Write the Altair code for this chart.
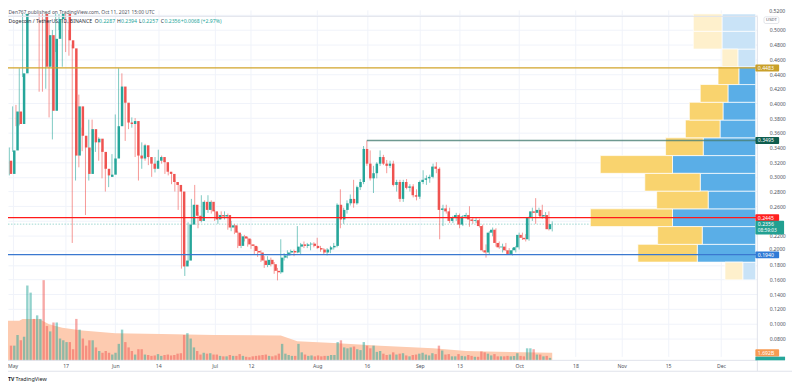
import altair as alt
import pandas as pd

# ---------------- data ----------------
first_day = "2021-04-29"
last_day = "2021-10-11"

opens = [
    0.322, 0.304,
    0.336, 0.389, 0.372, 0.441, 0.540, 0.590, 0.570, 0.660, 0.700, 0.570,
    0.450, 0.493, 0.390, 0.488, 0.515, 0.545, 0.548, 0.486, 0.475, 0.329,
    0.396, 0.356, 0.340, 0.304, 0.365, 0.347, 0.352, 0.334, 0.311, 0.300, 0.303,
    0.325, 0.369, 0.423, 0.401, 0.374, 0.372, 0.376, 0.329, 0.325, 0.343,
    0.327, 0.318, 0.311, 0.322, 0.327, 0.320, 0.307, 0.304, 0.293, 0.289,
    0.280, 0.178, 0.186, 0.235, 0.262, 0.247, 0.240, 0.266, 0.255, 0.266,
    0.253, 0.242, 0.248, 0.246, 0.248, 0.231, 0.234, 0.224, 0.206, 0.219,
    0.216, 0.208, 0.206, 0.199, 0.197, 0.186, 0.180, 0.187, 0.181, 0.172,
    0.170, 0.190, 0.193, 0.197, 0.199, 0.197, 0.205, 0.208, 0.206, 0.208, 0.209,
    0.206, 0.203, 0.201, 0.197, 0.201, 0.204, 0.206, 0.262, 0.242, 0.255,
    0.264, 0.270, 0.264, 0.286, 0.293, 0.338, 0.318, 0.298, 0.305, 0.318,
    0.327, 0.318, 0.315, 0.318, 0.289, 0.293, 0.270, 0.293, 0.285, 0.287, 0.275,
    0.273, 0.293, 0.296, 0.298, 0.300, 0.314, 0.311, 0.255, 0.257, 0.253,
    0.240, 0.245, 0.248, 0.235, 0.246, 0.248, 0.242, 0.240, 0.241, 0.233,
    0.200, 0.197, 0.224, 0.228, 0.210, 0.204, 0.205, 0.200, 0.195, 0.200,
    0.204, 0.221, 0.217, 0.215, 0.244, 0.253, 0.251, 0.255, 0.246, 0.248, 0.2287,
]
highs = [
    0.326, 0.340,
    0.396, 0.398, 0.448, 0.560, 0.620, 0.630, 0.690, 0.740, 0.710, 0.590,
    0.524, 0.510, 0.500, 0.530, 0.560, 0.565, 0.555, 0.500, 0.480, 0.403,
    0.412, 0.367, 0.344, 0.378, 0.378, 0.360, 0.354, 0.338, 0.316, 0.309, 0.331,
    0.385, 0.448, 0.441, 0.410, 0.394, 0.381, 0.380, 0.343, 0.347, 0.345,
    0.329, 0.323, 0.327, 0.337, 0.329, 0.322, 0.311, 0.306, 0.296, 0.292,
    0.283, 0.195, 0.238, 0.270, 0.289, 0.252, 0.275, 0.268, 0.275, 0.268,
    0.255, 0.250, 0.253, 0.253, 0.250, 0.240, 0.236, 0.226, 0.222, 0.221,
    0.218, 0.215, 0.208, 0.205, 0.200, 0.192, 0.192, 0.190, 0.184, 0.176,
    0.215, 0.196, 0.200, 0.201, 0.201, 0.233, 0.210, 0.212, 0.210, 0.211, 0.211,
    0.217, 0.206, 0.203, 0.203, 0.206, 0.210, 0.264, 0.283, 0.258, 0.268,
    0.276, 0.296, 0.288, 0.297, 0.342, 0.3495, 0.336, 0.315, 0.320, 0.336,
    0.330, 0.323, 0.322, 0.322, 0.296, 0.296, 0.296, 0.297, 0.290, 0.290, 0.283,
    0.295, 0.309, 0.302, 0.303, 0.318, 0.320, 0.313, 0.262, 0.262, 0.258,
    0.247, 0.251, 0.250, 0.248, 0.251, 0.260, 0.245, 0.244, 0.243, 0.235,
    0.208, 0.226, 0.231, 0.230, 0.212, 0.209, 0.210, 0.203, 0.203, 0.206,
    0.224, 0.224, 0.222, 0.246, 0.258, 0.271, 0.258, 0.262, 0.252, 0.253, 0.2394,
]
lows = [
    0.293, 0.302,
    0.334, 0.369, 0.370, 0.436, 0.520, 0.540, 0.560, 0.630, 0.416, 0.416,
    0.420, 0.381, 0.351, 0.470, 0.500, 0.450, 0.470, 0.465, 0.210, 0.295,
    0.313, 0.335, 0.248, 0.295, 0.336, 0.334, 0.322, 0.298, 0.280, 0.286, 0.300,
    0.318, 0.349, 0.385, 0.349, 0.365, 0.367, 0.327, 0.295, 0.311, 0.322,
    0.316, 0.300, 0.306, 0.320, 0.318, 0.304, 0.302, 0.290, 0.280, 0.255,
    0.175, 0.165, 0.183, 0.230, 0.237, 0.230, 0.238, 0.250, 0.251, 0.250,
    0.240, 0.236, 0.243, 0.242, 0.228, 0.226, 0.222, 0.203, 0.203, 0.212,
    0.205, 0.202, 0.195, 0.191, 0.184, 0.176, 0.177, 0.178, 0.168, 0.159,
    0.168, 0.186, 0.189, 0.193, 0.192, 0.196, 0.195, 0.203, 0.203, 0.200, 0.204,
    0.202, 0.198, 0.194, 0.193, 0.196, 0.201, 0.204, 0.230, 0.236, 0.250,
    0.261, 0.258, 0.262, 0.282, 0.290, 0.315, 0.295, 0.278, 0.298, 0.315,
    0.316, 0.305, 0.312, 0.287, 0.280, 0.266, 0.266, 0.283, 0.280, 0.272, 0.268,
    0.270, 0.290, 0.289, 0.292, 0.298, 0.305, 0.215, 0.233, 0.250, 0.237,
    0.237, 0.240, 0.230, 0.233, 0.243, 0.232, 0.236, 0.237, 0.231, 0.198,
    0.190, 0.195, 0.219, 0.205, 0.202, 0.197, 0.199, 0.194, 0.193, 0.197,
    0.201, 0.214, 0.212, 0.213, 0.240, 0.236, 0.247, 0.243, 0.243, 0.227, 0.2257,
]
closes = [
    0.304, 0.336,
    0.389, 0.372, 0.441, 0.540, 0.590, 0.570, 0.660, 0.700, 0.570, 0.450,
    0.493, 0.390, 0.488, 0.515, 0.545, 0.548, 0.486, 0.475, 0.329, 0.396,
    0.356, 0.340, 0.304, 0.365, 0.347, 0.352, 0.334, 0.311, 0.302, 0.303, 0.325,
    0.369, 0.423, 0.401, 0.374, 0.372, 0.376, 0.329, 0.325, 0.343, 0.327,
    0.318, 0.311, 0.322, 0.327, 0.320, 0.307, 0.304, 0.293, 0.289, 0.280,
    0.178, 0.186, 0.235, 0.262, 0.247, 0.240, 0.266, 0.255, 0.266, 0.253,
    0.242, 0.248, 0.246, 0.248, 0.231, 0.234, 0.224, 0.206, 0.219, 0.216,
    0.208, 0.206, 0.199, 0.197, 0.186, 0.180, 0.187, 0.181, 0.172, 0.170,
    0.190, 0.193, 0.197, 0.199, 0.197, 0.205, 0.208, 0.206, 0.208, 0.209, 0.206,
    0.203, 0.201, 0.197, 0.201, 0.204, 0.206, 0.262, 0.242, 0.255, 0.264,
    0.270, 0.264, 0.286, 0.293, 0.338, 0.318, 0.298, 0.305, 0.318, 0.327,
    0.318, 0.315, 0.318, 0.289, 0.293, 0.270, 0.293, 0.285, 0.287, 0.275, 0.273,
    0.293, 0.296, 0.298, 0.300, 0.314, 0.311, 0.255, 0.257, 0.253, 0.240,
    0.245, 0.248, 0.235, 0.246, 0.248, 0.242, 0.240, 0.241, 0.233, 0.200,
    0.197, 0.224, 0.228, 0.210, 0.204, 0.205, 0.200, 0.195, 0.200, 0.204,
    0.221, 0.217, 0.215, 0.244, 0.253, 0.251, 0.255, 0.246, 0.248, 0.2287, 0.2356,
]
volumes_b = [
    3.3, 3.3,
    5.7, 4.5, 5.3, 16.8, 15.2, 9.3, 10.1, 9.3, 18.0, 7.7,
    6.5, 8.5, 8.5, 4.9, 4.5, 4.1, 4.1, 2.5, 9.3, 6.9,
    4.9, 3.3, 4.5, 4.5, 2.9, 2.1, 1.7, 2.1, 1.7, 1.3, 1.7,
    3.7, 6.9, 4.1, 2.9, 2.1, 1.3, 2.5, 2.5, 1.3, 1.2,
    1.0, 1.1, 1.4, 1.0, 1.2, 1.3, 1.1, 1.2, 1.5, 1.6,
    5.7, 6.1, 4.9, 2.9, 2.1, 1.3, 1.7, 1.5, 1.6, 1.3,
    1.3, 1.0, 0.9, 0.9, 1.2, 1.0, 1.0, 1.4, 1.0, 0.8,
    0.7, 0.9, 1.0, 1.1, 1.2, 1.3, 1.0, 0.9, 1.1, 1.5,
    3.7, 1.5, 1.2, 1.0, 1.0, 3.7, 1.8, 1.3, 1.0, 1.1, 0.9,
    1.1, 0.9, 1.0, 1.0, 1.2, 1.2, 4.1, 4.5, 2.9, 2.7,
    2.9, 3.1, 2.5, 2.3, 4.1, 3.3, 2.7, 3.3, 1.9, 2.1,
    1.5, 1.2, 1.3, 1.8, 1.3, 1.5, 1.6, 1.1, 0.9, 1.2, 1.3,
    1.5, 1.7, 1.3, 1.1, 1.6, 1.4, 3.3, 2.2, 1.3, 1.4,
    0.9, 0.9, 1.4, 1.0, 0.9, 1.2, 1.0, 0.8, 0.8, 2.0,
    1.8, 1.5, 1.1, 1.4, 0.9, 0.9, 0.9, 1.0, 0.9, 1.0,
    1.6, 1.0, 0.9, 2.7, 2.7, 2.5, 1.3, 1.3, 0.9, 1.0, 0.55,
]

# volume moving average (area)
ma_dates = ["2021-04-29", "2021-05-03", "2021-05-04", "2021-05-09", "2021-05-12",
            "2021-05-16", "2021-05-22", "2021-06-01", "2021-06-15", "2021-07-01",
            "2021-07-21", "2021-07-26", "2021-08-06", "2021-08-20", "2021-09-05",
            "2021-09-15", "2021-10-11"]
ma_values = [8.9, 8.9, 9.3, 9.3, 8.1, 7.3, 6.7, 6.1, 5.9, 5.7, 5.6, 4.3, 3.9, 3.3,
             2.7, 2.1, 1.692]

# visible range volume profile (rows from the bottom)
profile_row = 0.02418
profile_bin_low = [0.1597, 0.1839, 0.2081, 0.2323, 0.2564, 0.2806, 0.3048, 0.3290,
                   0.3532, 0.3774, 0.4016, 0.4257, 0.4499, 0.4741, 0.4983]
profile_up = [13, 59, 54, 84, 48, 56, 84, 53, 36, 33, 28, 17, 18, 34, 34]
profile_down = [18, 60, 45, 83, 52, 56, 73, 38, 35, 34, 28, 21, 16, 29, 29]
profile_value_area = [False, True, True, True, True, True, True, True, True, True,
                      True, True, False, False, False]

# horizontal levels
gold_level = 0.4483
green_level = 0.3495
green_level_start = "2021-08-16"
red_level = 0.2445
blue_level = 0.1940
last_price = 0.2356
countdown = "08:59:03"
last_volume_ma = 1.692

tick_dates = ["2021-05-01", "2021-05-17", "2021-06-01", "2021-06-14", "2021-07-01",
              "2021-07-12", "2021-08-01", "2021-08-16", "2021-09-01", "2021-09-13",
              "2021-10-01", "2021-10-18", "2021-11-01", "2021-11-15", "2021-12-01"]
tick_labels = ["May", "17", "Jun", "14", "Jul", "12", "Aug", "16", "Sep", "13",
               "Oct", "18", "Nov", "15", "Dec"]
price_ticks = [0.08, 0.10, 0.12, 0.14, 0.16, 0.18, 0.20, 0.22, 0.24, 0.26, 0.28,
               0.30, 0.32, 0.34, 0.36, 0.38, 0.40, 0.42, 0.44, 0.46, 0.48, 0.50, 0.52]
# labels drawn by hand (nudged clear of the level boxes) or hidden under them
hidden_price_labels = ["0.2400", "0.5200", "0.2000"]
top_cut_label = "0.5200"
nudged_label = "0.2000"

header_line1 = "Den767 published on TradingView.com, Oct 11, 2021 15:00 UTC"
header_symbol = "Dogecoin / TetherUS, 1D, BINANCE"
ohlc_letters = ["O", "H", "L", "C"]
ohlc_values = ["0.2287", "0.2394", "0.2257", "0.2356"]
change_text = "+0.0068 (+2.97%)"

# ---------------- layout / style ----------------
W, H = 757, 354
FONT = "Noto Sans"
FS = 5.2
UP, DOWN = "#26a69a", "#ef5350"
PX_DAY = 3.344
X_MAY1 = 4.7
PX_PRICE = 741.7
Y_HALF = 20.3
TOP = 4
PX_VOL = 4.5

day0 = pd.Timestamp("2021-05-01")
X = alt.Scale(domain=[-X_MAY1 / PX_DAY, (W - X_MAY1) / PX_DAY], nice=False, zero=False)
P = alt.Scale(domain=[0.5 - (H - Y_HALF) / PX_PRICE, 0.5 + (Y_HALF - TOP) / PX_PRICE],
              range=[H, TOP], nice=False, zero=False, clamp=True)
V = alt.Scale(domain=[0, H / PX_VOL], range=[H, 0], nice=False, zero=False, clamp=True)
PROF = alt.Scale(domain=[0, 200], range=[755.3, 555.3], nice=False, zero=False)

dates = pd.date_range(first_day, last_day, freq="D")
df = pd.DataFrame({"O": opens, "H": highs, "L": lows, "C": closes, "V": volumes_b})
df["d"] = (dates - day0).days

ma_df = pd.DataFrame({"d": (pd.to_datetime(ma_dates) - day0).days, "v": ma_values})
tick_days = [int((pd.Timestamp(t) - day0).days) for t in tick_dates]
label_expr = " : ".join(f"datum.value == {d} ? '{l}'" for d, l in zip(tick_days, tick_labels)) + " : ''"
hidden_list = "[" + ",".join(f"'{h}'" for h in hidden_price_labels) + "]"
y_label_expr = f"indexof({hidden_list}, datum.label) >= 0 ? '' : datum.label"

prof = pd.DataFrame({"lo": profile_bin_low, "up": profile_up, "down": profile_down,
                     "va": profile_value_area})
prof["hi"] = prof["lo"] + profile_row
prof["tot"] = prof["up"] + prof["down"]
prof["zero"] = 0

x_axis = alt.Axis(values=tick_days, labelExpr=label_expr, grid=True, gridColor="#f0f3fa",
                  ticks=False, domain=False, labelFontSize=FS, labelColor="#50535e",
                  labelFont=FONT, labelPadding=5, labelBaseline="middle", labelFlush=False,
                  labelOverlap=False, title=None)
y_axis = alt.Axis(orient="right", values=price_ticks, format=".4f", labelExpr=y_label_expr,
                  grid=True, gridColor="#f0f3fa", ticks=False, domain=False, labelFontSize=FS,
                  labelColor="#50535e", labelFont=FONT, labelPadding=12,
                  labelBaseline="middle", labelAlign="left", labelFlush=False,
                  labelOverlap=False, title=None)

updown = alt.condition("datum.C >= datum.O", alt.value(UP), alt.value(DOWN))
base = alt.Chart(df)

ma_layer = alt.Chart(ma_df).mark_area(color="#fdcbb0").encode(
    x=alt.X("d:Q", scale=X, axis=None), y=alt.Y("v:Q", scale=V, axis=None))
vol_layer = base.mark_bar(width=2.4, orient="vertical", opacity=0.5).encode(
    x=alt.X("d:Q", scale=X, axis=None), y=alt.Y("V:Q", scale=V, axis=None), color=updown)

def level_df(p):
    return pd.DataFrame({"p": [p]})

last_line = alt.Chart(level_df(last_price)).mark_rule(
    color=UP, strokeDash=[1.5, 1.5], opacity=0.45, strokeWidth=1).encode(
    x=alt.value(0), x2=alt.value(W), y=alt.Y("p:Q", scale=P, axis=None))

wicks = base.mark_rule(strokeWidth=1, opacity=0.6).encode(
    x=alt.X("d:Q", scale=X, axis=x_axis), y=alt.Y("L:Q", scale=P, axis=y_axis),
    y2="H:Q", color=updown)
bodies = base.mark_bar(width=2.5, orient="vertical").encode(
    x=alt.X("d:Q", scale=X, axis=None), y=alt.Y("O:Q", scale=P, axis=None),
    y2="C:Q", color=updown)

prof_blue = alt.Chart(prof).mark_rect(stroke="white", strokeWidth=0.7).encode(
    x=alt.X("zero:Q", scale=PROF, axis=None), x2="up:Q",
    y=alt.Y("lo:Q", scale=P, axis=None), y2="hi:Q",
    color=alt.condition("datum.va", alt.value("#5aaee7"), alt.value("#c9e3f7")))
prof_yellow = alt.Chart(prof).mark_rect(stroke="white", strokeWidth=0.7).encode(
    x=alt.X("up:Q", scale=PROF, axis=None), x2="tot:Q",
    y=alt.Y("lo:Q", scale=P, axis=None), y2="hi:Q",
    color=alt.condition("datum.va", alt.value("#f9d36e"), alt.value("#fef0cc")))

def hline(p, color, width, opacity=1.0):
    return alt.Chart(level_df(p)).mark_rule(color=color, strokeWidth=width, opacity=opacity).encode(
        x=alt.value(0), x2=alt.value(W), y=alt.Y("p:Q", scale=P, axis=None))

gold_line = hline(gold_level, "#d2a42b", 1.3)
red_line = hline(red_level, "#ff1a1a", 1.2)
blue_line = hline(blue_level, "#3a78d0", 1.2)
green_df = pd.DataFrame({"p": [green_level], "s": [(pd.Timestamp(green_level_start) - day0).days]})
green_line = alt.Chart(green_df).mark_rule(color="#4a8076", strokeWidth=1.6, opacity=0.8).encode(
    x=alt.X("s:Q", scale=X, axis=None), x2=alt.value(W), y=alt.Y("p:Q", scale=P, axis=None))

BOX_X0, BOX_X1 = 755, 779

def price_box(p, color, up_px=3.5, down_px=3.5, x1=BOX_X1):
    return alt.Chart(level_df(p)).transform_calculate(
        t=f"datum.p + {up_px / PX_PRICE}", b=f"datum.p - {down_px / PX_PRICE}"
    ).mark_rect(color=color, cornerRadius=1).encode(
        x=alt.value(BOX_X0), x2=alt.value(x1),
        y=alt.Y("t:Q", scale=P, axis=None), y2="b:Q")

def price_text(p, color="white"):
    return alt.Chart(level_df(p)).mark_text(
        align="left", baseline="middle", fontSize=FS, font=FONT, color=color).encode(
        x=alt.value(757.5), y=alt.Y("p:Q", scale=P, axis=None),
        text=alt.Text("p:Q", format=".4f"))

boxes = [
    price_box(gold_level, "#c9a02a"), price_text(gold_level),
    price_box(green_level, "#0f5d4e"), price_text(green_level),
    price_box(red_level, "#ff2020"), price_text(red_level),
    price_box(last_price, "#22a091", 3.5, 10.4, 784), price_text(last_price),
    alt.Chart(pd.DataFrame({"p": [last_price], "t": [countdown]})).mark_text(
        align="left", baseline="middle", fontSize=FS - 0.4, font=FONT, color="white", dy=6.6).encode(
        x=alt.value(757.5), y=alt.Y("p:Q", scale=P, axis=None), text="t:N"),
    price_box(blue_level, "#2f7ad6", 3.3, 3.5), price_text(blue_level),
]

vm = pd.DataFrame({"v": [last_volume_ma]})
vol_box = alt.Chart(vm).transform_calculate(
    t=f"datum.v + {3.6 / PX_VOL}", b=f"datum.v - {3.6 / PX_VOL}"
).mark_rect(color="#f79a52", cornerRadius=1).encode(
    x=alt.value(BOX_X0), x2=alt.value(779), y=alt.Y("t:Q", scale=V, axis=None), y2="b:Q")
vol_text = alt.Chart(vm).transform_calculate(lab="format(datum.v, '.3f') + 'B'").mark_text(
    align="left", baseline="middle", fontSize=FS, font=FONT, color="white").encode(
    x=alt.value(757.5), y=alt.Y("v:Q", scale=V, axis=None), text="lab:N")
vol_now_box = alt.Chart(pd.DataFrame({"a": [0]})).mark_rect(color="#26a69a").encode(
    x=alt.value(BOX_X0), x2=alt.value(785), y=alt.value(350.3), y2=alt.value(354))

def rule_px(x1, x2, y1, y2, color="#e0e3eb", width=1):
    return alt.Chart(pd.DataFrame({"a": [0]})).mark_rule(color=color, strokeWidth=width).encode(
        x=alt.value(x1), x2=alt.value(x2), y=alt.value(y1), y2=alt.value(y2))

borders = [
    rule_px(0, W, 6.5, 6.5),
    rule_px(0, W, H, H),
    rule_px(W, W, 6.5, 365),
    rule_px(0, 792, 365, 365),
]

usdt_box = alt.Chart(pd.DataFrame({"a": [0]})).mark_rect(
    fill="white", stroke="#d1d4dc", strokeWidth=0.6, cornerRadius=1.5).encode(
    x=alt.value(763.7), x2=alt.value(778.7), y=alt.value(7), y2=alt.value(13.7))
usdt_text = alt.Chart(pd.DataFrame({"t": ["USDT"]})).mark_text(
    align="center", baseline="middle", fontSize=4.3, font=FONT, color="#50535e").encode(
    x=alt.value(771.2), y=alt.value(10.4), text="t:N")

def text_px(t, x, y, color, size=FS, weight="normal", align="left"):
    return alt.Chart(pd.DataFrame({"t": [t]})).mark_text(
        align=align, baseline="middle", fontSize=size, font=FONT, color=color,
        fontWeight=weight).encode(x=alt.value(x), y=alt.value(y), text="t:N")

top_label = text_px(top_cut_label, 769, 1.2, "#50535e")
nudged = alt.Chart(pd.DataFrame({"p": [float(nudged_label)], "t": [nudged_label]})).mark_text(
    align="left", baseline="middle", fontSize=FS, font=FONT, color="#50535e", dy=-1.6).encode(
    x=alt.value(769), y=alt.Y("p:Q", scale=P, axis=None), text="t:N")

header = [
    text_px(header_line1, 0.5, 2.6, "#50535e", 5.0),
    text_px(header_symbol, 0.5, 10.8, "#2a2e39"),
]
letter_x = [87.7, 110.0, 132.3, 154.3]
letter_w = [4.3, 4.1, 3.1, 3.7]
for lt, val, lx, lw in zip(ohlc_letters, ohlc_values, letter_x, letter_w):
    header.append(text_px(lt, lx, 10.8, "#2a2e39"))
    header.append(text_px(val, lx + lw, 10.8, UP))
header.append(text_px(change_text, 174.5, 10.8, UP))

footer = [
    text_px("TV", 0.0, 373, "#131722", 5.2, "bold"),
    text_px("TradingView", 7.5, 373, "#131722", 5.5),
]

layers = ([ma_layer, vol_layer, last_line, wicks, bodies, prof_blue, prof_yellow,
           gold_line, green_line, red_line, blue_line] + borders + [nudged] + boxes +
          [vol_box, vol_text, vol_now_box, usdt_box, usdt_text, top_label] + header + footer)

chart = alt.layer(*layers).resolve_scale(
    x="independent", y="independent"
).properties(
    width=W, height=H,
    autosize=alt.AutoSizeParams(type="none"),
    padding={"left": 0, "top": 0, "right": 35, "bottom": 27},
    background="white",
).configure_view(stroke=None)

chart.save("out.html", embed_options={"renderer": "svg", "actions": False})
